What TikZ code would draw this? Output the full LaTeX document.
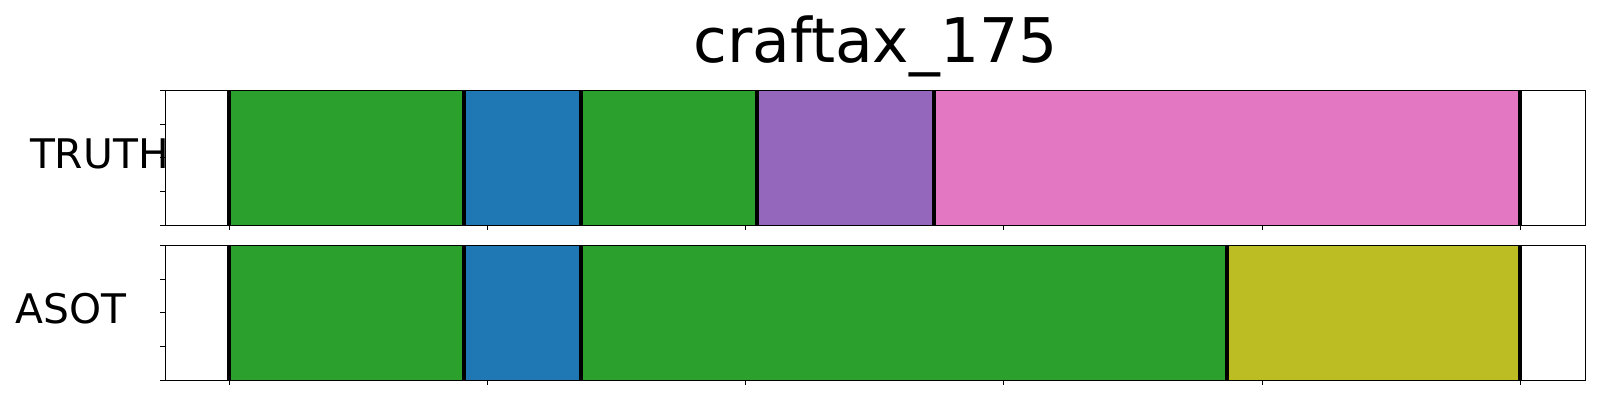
\documentclass[tikz,border=0pt]{standalone}
\usepackage{fontspec}
\setmainfont{DejaVu Sans}
\usetikzlibrary{positioning}
\definecolor{tabgreen}{HTML}{2CA02C}
\definecolor{tabblue}{HTML}{1F77B4}
\definecolor{tabpurple}{HTML}{9467BD}
\definecolor{tabpink}{HTML}{E377C2}
\definecolor{tabolive}{HTML}{BCBD22}
\begin{document}
\begin{tikzpicture}[x=0.01cm, y=-0.01cm,
    cut/.style={line width=1.14pt},
    frame/.style={line width=0.31pt},
    lbl/.style={anchor=base west, inner sep=0, font=\fontsize{11.6}{13}\selectfont}]
    \useasboundingbox (0,0) rectangle (1600,400);

    \node (title) [anchor=base, inner sep=0, font=\fontsize{17.5}{21}\selectfont] at (875.5,62) {craftax\_175};

    % truth segments
    \foreach \a/\b/\c in {229.2/463.7/tabgreen, 463.7/580.7/tabblue, 580.7/756.7/tabgreen, 756.7/933.7/tabpurple, 933.7/1520/tabpink}
        \fill[\c] (\a,90.3) rectangle (\b,225.3);
    \foreach \x in {229.2, 463.7, 580.7, 756.7, 933.7, 1520}
        \draw[cut] (\x,90.3) -- (\x,225.3);

    % asot segments
    \foreach \a/\b/\c in {229.2/463.7/tabgreen, 463.7/580.7/tabblue, 580.7/1226.7/tabgreen, 1226.7/1520/tabolive}
        \fill[\c] (\a,245.3) rectangle (\b,380.3);
    \foreach \x in {229.2, 463.7, 580.7, 1226.7, 1520}
        \draw[cut] (\x,245.3) -- (\x,380.3);

    % frames and ticks
    \foreach \t in {90.3, 245.3} {
        \draw[frame] (165.3,\t) rectangle (1585.7,\t+135);
        \foreach \k in {0,...,4}
            \draw[frame] (165.3,{\t+\k*33.75}) -- ++(-4.9,0);
        \foreach \k in {0,...,5}
            \draw[frame] ({229.3+\k*258.2},\t+135) -- ++(0,4.9);
    }

    \node (truth) [lbl] at (29.3,168.7) {TRUTH};
    \node (asot) [lbl] at (15,323.3) {ASOT};
\end{tikzpicture}
\end{document}
